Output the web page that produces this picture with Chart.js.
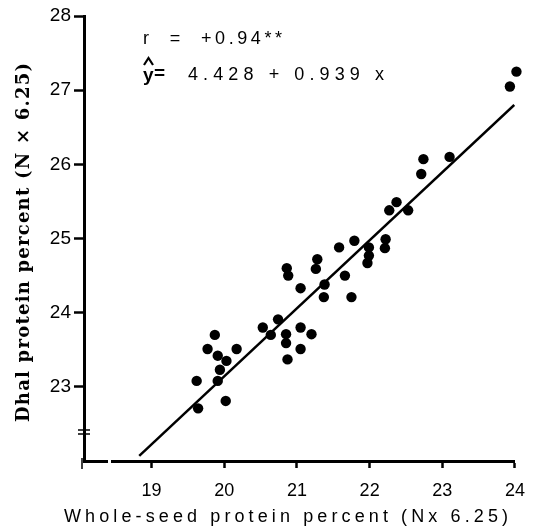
<!DOCTYPE html>
<html>
<head>
<meta charset="utf-8">
<script src="https://cdn.jsdelivr.net/npm/chart.js@4.4.1/dist/chart.umd.min.js"></script>
<style>
  html, body { margin: 0; padding: 0; background: #fff; }
  #wrap { width: 537px; height: 528px; position: relative; }
</style>
</head>
<body>
<div id="wrap"><canvas id="scatterChart"></canvas></div>
<script>
// Whole-seed protein (x) vs dhal protein (y)
const seedProtein = [19.62, 19.64, 19.77, 19.87, 19.91, 20.03, 19.94, 19.91, 20.02, 20.17,
                     20.53, 20.64, 20.74, 20.85, 20.85, 20.87, 21.05, 21.05, 21.20, 20.86,
                     20.88, 21.05, 21.28, 21.26, 21.38, 21.37, 21.58, 21.66, 21.75, 21.79,
                     21.99, 21.99, 21.97, 22.22, 22.21, 22.27, 22.37, 22.53, 22.71, 22.74,
                     23.10, 23.93, 24.02];
const dhalProtein = [23.08, 22.71, 23.51, 23.70, 23.42, 23.35, 23.23, 23.08, 22.81, 23.51,
                     23.80, 23.70, 23.91, 23.71, 23.59, 23.37, 23.80, 23.51, 23.71, 24.60,
                     24.50, 24.33, 24.72, 24.59, 24.38, 24.21, 24.88, 24.50, 24.21, 24.97,
                     24.88, 24.77, 24.67, 24.99, 24.87, 25.38, 25.49, 25.38, 25.87, 26.07,
                     26.10, 27.05, 27.25];

// regression line as drawn (end points)
const fitX = [18.83, 23.99];
const fitY = [22.07, 26.80];

const xTicks = [19, 20, 21, 22, 23, 24];
const yTicks = [23, 24, 25, 26, 27, 28];

const xTitle = 'Whole-seed protein percent (Nx 6.25)';
const yTitle = 'Dhal protein percent (N \u00d7 6.25)';
const rText = 'r  =  +0.94**';
const eqText = '4.428 + 0.939 x';

const points = seedProtein.map((x, i) => ({ x: x, y: dhalProtein[i] }));
const fitLine = fitX.map((x, i) => ({ x: x, y: fitY[i] }));

// draw a string so that it spans a given width
function spreadText(ctx, text, x, y, width) {
    ctx.letterSpacing = '0px';
    const w = ctx.measureText(text).width;
    const sp = (width - w) / (text.length - 1);
    ctx.letterSpacing = sp + 'px';
    ctx.textAlign = 'left';
    ctx.fillText(text, x, y);
    ctx.letterSpacing = '0px';
}

const labelsPlugin = {
    id: 'labels',
    afterDraw(chart) {
        const ctx = chart.ctx;
        ctx.save();
        ctx.fillStyle = '#000';
        ctx.textBaseline = 'alphabetic';

        // y title, rotated
        ctx.save();
        ctx.translate(29, 422);
        ctx.rotate(-Math.PI / 2);
        ctx.font = 'bold 18px "DejaVu Serif"';
        spreadText(ctx, yTitle, 0, 0, 359);
        ctx.restore();

        // x title
        ctx.font = '18px "Liberation Sans"';
        spreadText(ctx, xTitle, 64, 522, 444);

        // r and regression equation
        ctx.font = '18px "Liberation Sans"';
        spreadText(ctx, rText, 143, 44, 139);
        spreadText(ctx, eqText, 188, 80, 196);

        ctx.font = 'bold 19px "Liberation Sans"';
        ctx.fillText('y', 143, 81);
        ctx.fillText('=', 154, 79);
        ctx.lineWidth = 2.2;
        ctx.strokeStyle = '#000';
        ctx.beginPath();
        ctx.moveTo(144, 65);
        ctx.lineTo(148.5, 58);
        ctx.lineTo(153, 65);
        ctx.stroke();

        // axis break marks
        const xa = chart.scales.x, ya = chart.scales.y;
        const left = xa.left, bottom = ya.bottom;
        ctx.lineWidth = 1.5;
        ctx.beginPath();
        ctx.moveTo(left - 6, 430); ctx.lineTo(left + 6, 430);
        ctx.moveTo(left - 6, 434); ctx.lineTo(left + 6, 434);
        ctx.moveTo(left - 2, bottom - 3); ctx.lineTo(left - 2, bottom + 8);
        ctx.stroke();
        ctx.fillStyle = '#fff';
        ctx.fillRect(left + 24, bottom - 2, 3, 4);
        ctx.restore();
    }
};

const ctx = document.getElementById('scatterChart').getContext('2d');

const stockChart = new Chart(ctx, {
    type: 'scatter',
    data: {
        datasets: [{
            label: 'samples',
            data: points,
            pointRadius: 5.2,
            pointHoverRadius: 5.2,
            backgroundColor: '#000',
            borderColor: '#000',
            borderWidth: 0,
            clip: false
        }, {
            label: 'fit',
            type: 'line',
            data: fitLine,
            showLine: true,
            pointRadius: 0,
            borderColor: '#000',
            borderWidth: 2.5,
            fill: false
        }]
    },
    options: {
        responsive: true,
        maintainAspectRatio: false,
        animation: false,
        layout: { padding: { left: 0, right: 13, top: 16, bottom: 0 } },
        plugins: {
            legend: { display: false },
            tooltip: { enabled: false }
        },
        scales: {
            x: {
                type: 'linear',
                min: 18.07,
                max: 24,
                afterBuildTicks: scale => { scale.ticks = xTicks.map(v => ({ value: v })); },
                afterFit: scale => { scale.height = 67; },
                border: { display: true, color: '#000', width: 3 },
                grid: { drawOnChartArea: false, drawTicks: true, tickLength: 7, tickWidth: 2.5, color: '#000' },
                ticks: {
                    color: '#000',
                    font: { family: 'Liberation Sans', size: 18 },
                    padding: 12,
                    maxRotation: 0
                }
            },
            y: {
                type: 'linear',
                min: 22,
                max: 28,
                afterBuildTicks: scale => { scale.ticks = yTicks.map(v => ({ value: v })); },
                afterFit: scale => { scale.width = 84; },
                border: { display: true, color: '#000', width: 3 },
                grid: { drawOnChartArea: false, drawTicks: true, tickLength: 10, tickWidth: 2.5, color: '#000' },
                ticks: {
                    color: '#000',
                    font: { family: 'Liberation Sans', size: 19 },
                    padding: 3
                }
            }
        }
    },
    plugins: [labelsPlugin]
});
</script>
</body>
</html>
